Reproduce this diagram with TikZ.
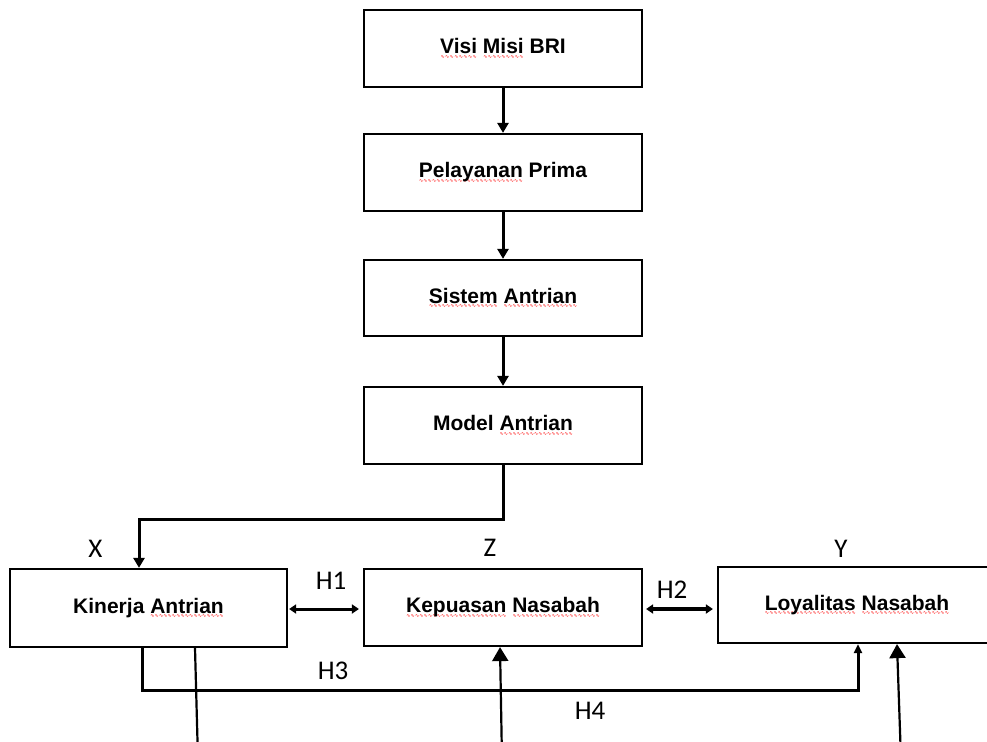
\documentclass[tikz,border=0pt]{standalone}
\usepackage{fontspec}
\setmainfont{Liberation Sans}
\newfontfamily\calib{Carlito}
\newfontfamily\djv{DejaVu Sans}
\usetikzlibrary{arrows.meta,calc}
\newcommand\wv[1]{\setbox0\hbox{#1}\leavevmode\rlap{\lower4.5pt\hbox to\wd0{\color{red}\djv\mdseries\fontsize{5}{5}\selectfont\xleaders\hbox{∿}\hfill}}\box0\relax}
\begin{document}
\begin{tikzpicture}[x=1pt,y=-1pt,
  box/.style={draw,line width=2.2pt,minimum width=278pt,minimum height=77pt,inner sep=0pt,
    font=\fontsize{21}{25}\selectfont\bfseries},
  arr/.style={line width=3pt,-{Triangle[width=11pt,length=10pt]}},
  dblarr/.style={line width=3pt,{Triangle[width=9pt,length=7pt]}-{Triangle[width=9pt,length=7pt]}},
  bigarr/.style={line width=2.2pt,-{Triangle[width=16pt,length=14pt]}},
  lbl/.style={anchor=base,font=\calib\fontsize{27}{30}\selectfont},
  plain/.style={line width=2.2pt}]
\useasboundingbox (0,0) rectangle (987,741);
\node[box] (b1) at (503,48.5) {\wv{Visi} \wv{Misi} BRI};
\node[box] (b2) at (503,172.5) {\wv{Pelayanan} Prima};
\node[box,minimum height=76pt] (b3) at (503,298) {\wv{Sistem} \wv{Antrian}};
\node[box] (b4) at (503,425.5) {Model \wv{Antrian}};
\node[box,minimum width=277pt,minimum height=78pt] (kin) at (148.5,608) {Kinerja \wv{Antrian}};
\node[box] (kep) at (503,607.5) {\wv{Kepuasan} \wv{Nasabah}};
\node[box,minimum height=76pt] (loy) at (857,605) {\wv{Loyalitas} \wv{Nasabah}};
\draw[arr] (b1) -- (b2);
\draw[arr] (b2) -- (b3);
\draw[arr] (b3) -- (b4);
\draw[arr] (b4.south) -- ++(0,54) -| ([xshift=-9.5pt]kin.north);
\draw[dblarr,shorten <=1pt,shorten >=4pt] ([yshift=-1pt]kin.east) -- ([yshift=-1pt]kin.east -| kep.west);
\draw[dblarr,line width=4pt,shorten >=4pt,shorten <=3pt] ([yshift=-1.5pt]kep.east) -- ([yshift=-1.5pt]kep.east -| loy.west);
\draw[line width=3pt,-{Triangle[width=8pt,length=9pt]}] ([xshift=-6.5pt]kin.south) -- ++(0,42) -| ([xshift=1pt]loy.south);
\coordinate (e1) at (198,760);
\coordinate (e2) at (502,760);
\coordinate (e3) at (901,760);
\draw[plain] ([xshift=46.5pt]kin.south) -- (e1);
\draw[bigarr] (e2) -- ([xshift=-3pt]kep.south);
\draw[bigarr] (e3) -- ([xshift=40pt]loy.south);
\node[lbl] (lx) at (95.5,557) {X};
\node[lbl] (lz) at (490,556) {Z};
\node[lbl] (ly) at (841,557) {Y};
\node[lbl] (h1) at (331,589) {H1};
\node[lbl] (h2) at (672,598) {H2};
\node[lbl] (h3) at (333,679) {H3};
\node[lbl] (h4) at (590,719) {H4};
\end{tikzpicture}
\end{document}
